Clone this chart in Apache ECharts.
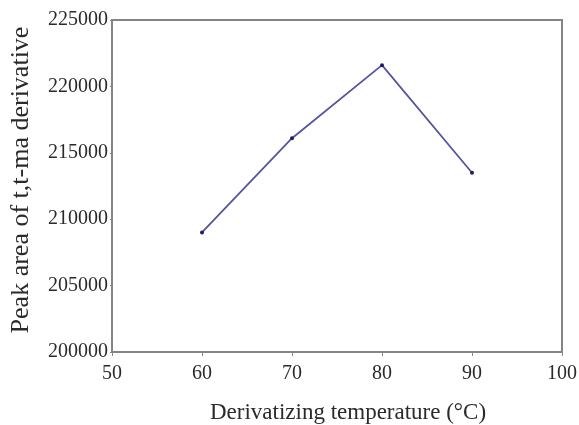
<!DOCTYPE html>
<html>
<head>
<meta charset="utf-8">
<script src="https://cdn.jsdelivr.net/npm/echarts@6/dist/echarts.min.js"></script>
<style>
  html, body { margin: 0; padding: 0; background: #fff; }
  #chart { width: 579px; height: 425px; }
</style>
</head>
<body>
<div id="chart"></div>
<script>
const temps = [60, 70, 80, 90]
const peakAreas = [209000, 216100, 221600, 213500]

const xName = 'Derivatizing temperature (°C)'
const yName = 'Peak area of t,t-ma derivative'

const chart = echarts.init(document.getElementById('chart'))

const axisFont = {
  fontFamily: 'Liberation Serif',
  fontSize: 20,
  color: '#2a2a2a'
}

chart.setOption({
  animation: false,
  grid: {
    left: 112,
    top: 20,
    right: 17,
    bottom: 73,
    outerBoundsMode: 'none',
    containLabel: false,
    show: true,
    borderColor: '#858585',
    borderWidth: 2
  },
  xAxis: {
    type: 'value',
    min: 50,
    max: 100,
    interval: 10,
    name: xName,
    nameLocation: 'middle',
    nameGap: 49,
    nameTextStyle: { ...axisFont, fontSize: 23, padding: [0, 0, 0, 22] },
    axisLine: { show: true, lineStyle: { color: '#858585', width: 2 } },
    axisTick: { show: true, inside: false, length: 4, lineStyle: { color: '#858585' } },
    axisLabel: { ...axisFont, margin: 12 },
    splitLine: { show: false }
  },
  yAxis: {
    type: 'value',
    min: 200000,
    max: 225000,
    interval: 5000,
    name: yName,
    nameLocation: 'middle',
    nameGap: 78,
    nameTextStyle: { ...axisFont, fontSize: 26, padding: [0, 0, 0, 12] },
    axisLine: { show: true, lineStyle: { color: '#858585', width: 2 } },
    axisTick: { show: true, inside: false, length: 2, lineStyle: { color: '#858585' } },
    axisLabel: { ...axisFont, margin: 4, formatter: v => String(v) },
    splitLine: { show: false }
  },
  series: [
    {
      type: 'line',
      data: temps.map((t, i) => [t, peakAreas[i]]),
      symbol: 'circle',
      symbolSize: 4,
      itemStyle: { color: '#1e1e5c' },
      lineStyle: { color: '#55559e', width: 1.8 }
    }
  ]
})
</script>
</body>
</html>
